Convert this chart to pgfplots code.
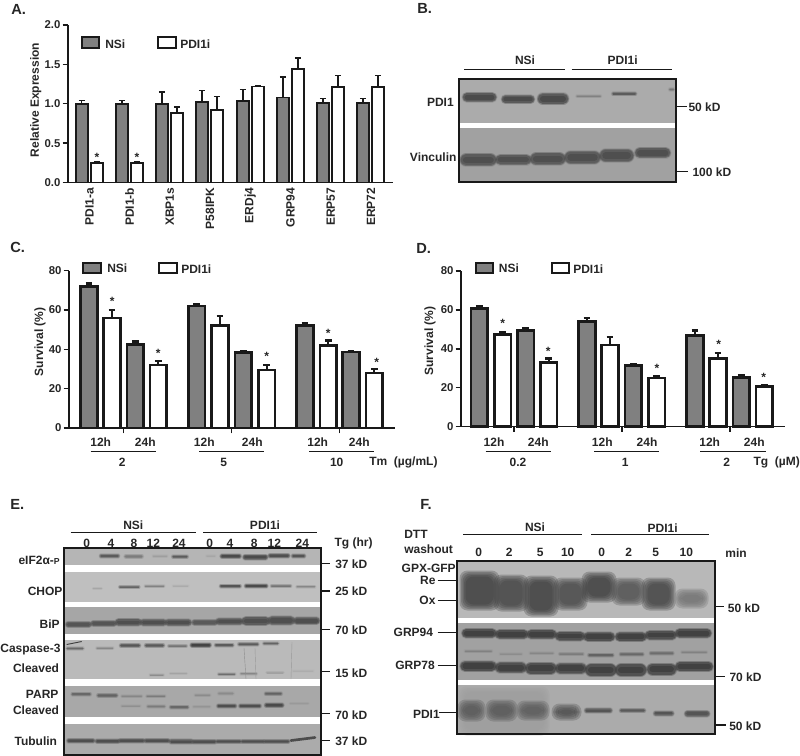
\documentclass[border=0pt]{standalone}
\usepackage{fontspec}
\setmainfont{Liberation Sans}
\usepackage{pgfplots}
\usepackage{pgfplotstable}
\pgfplotsset{compat=1.18}

% text sizes
\newcommand{\lf}{\fontsize{9}{10}\selectfont\bfseries}
\newcommand{\pf}{\fontsize{11}{12}\selectfont\bfseries}

% helpers for the pixel-coordinate axis that holds blots and labels
\newcommand{\band}[5]{%
  \pgfmathsetmacro\xa{#1+min(#4/2,(#2-#1)/2)}%
  \pgfmathsetmacro\xb{#2-min(#4/2,(#2-#1)/2)}%
  \addplot[draw=black!#5,opacity=.15,line width=(#4+3)*0.75pt,line cap=round] coordinates {(\xa,#3)(\xb,#3)};
  \addplot[draw=black!#5,opacity=.25,line width=(#4+2)*0.75pt,line cap=round] coordinates {(\xa,#3)(\xb,#3)};
  \addplot[draw=black!#5,opacity=.35,line width=(#4+1)*0.75pt,line cap=round] coordinates {(\xa,#3)(\xb,#3)};
  \addplot[draw=black!#5,opacity=.5,line width=#4*0.75pt,line cap=round] coordinates {(\xa,#3)(\xb,#3)};
  \addplot[draw=black!#5,opacity=.8,line width=#4*0.45pt,line cap=round] coordinates {(\xa,#3)(\xb,#3)};
}
% soft rounded patch for the overloaded bands: one rectangle per inset
\newcommand{\blobrect}[6]{%
  \pgfmathsetmacro\xa{#1+#6}\pgfmathsetmacro\xb{#2-#6}%
  \pgfmathsetmacro\ya{#3+#6}\pgfmathsetmacro\yb{#4-#6}%
  \addplot[fill=black!#5,draw=none,opacity=.28,rounded corners=6pt] coordinates {(\xa,\ya)(\xb,\ya)(\xb,\yb)(\xa,\yb)} --cycle;
}
\newcommand{\blob}[5]{%
  \blobrect{#1}{#2}{#3}{#4}{#5}{-1.5}%
  \blobrect{#1}{#2}{#3}{#4}{#5}{0}%
  \blobrect{#1}{#2}{#3}{#4}{#5}{1.5}%
  \blobrect{#1}{#2}{#3}{#4}{#5}{3}%
  \blobrect{#1}{#2}{#3}{#4}{#5}{4.5}%
}
\newcommand{\blot}[5]{\addplot[fill=#5,draw=none] coordinates {(#1,#2)(#3,#2)(#3,#4)(#1,#4)} --cycle;}
\newcommand{\frm}[4]{\addplot[draw=black!90,line width=1.5pt] coordinates {(#1,#2)(#3,#2)(#3,#4)(#1,#4)} --cycle;}
\newcommand{\seg}[5]{\addplot[draw=black!90,line width=#5*0.75pt] coordinates {(#1,#2)(#3,#4)};}
\newcommand{\lab}[4]{\node[anchor=#3,inner sep=0pt,font=\lf,text=black!85] at (axis cs:#1,#2) {#4};}
\newcommand{\legbox}[5]{\addplot[fill=#5,draw=black!90,line width=1.5pt] coordinates {(#1,#2)(#3,#2)(#3,#4)(#1,#4)} --cycle;}

% panel A
\pgfplotstableread{
x y e
81.7 1.00 0.04
122 1.00 0.04
162 1.00 0.15
202 1.02 0.15
243 1.03 0.15
283 1.08 0.26
323 1.01 0.06
363 1.01 0.06
}\tabAn
\pgfplotstableread{
x y e
97 0.25 0.01
137 0.25 0.01
177 0.88 0.08
217 0.92 0.17
258 1.22 0.01
298 1.44 0.14
338 1.21 0.15
378 1.21 0.15
}\tabAp
% panel C
\pgfplotstableread{
x y e
89 72 1.5
135.3 42.5 1.5
196.7 62 1
243.3 38.5 0.7
305 52 1.5
351 38.7 0.3
}\tabCn
\pgfplotstableread{
x y e
112 56 4
158.3 32 2
220 52 5
266.7 29.5 2.5
328.3 42 2.5
374.3 28 2
}\tabCp
% panel D
\pgfplotstableread{
x y e
479.3 60.8 1
525.7 49.5 1.2
587 54 1.8
633.3 31.5 0.8
695 47 2.5
741.3 25.3 1
}\tabDn
\pgfplotstableread{
x y e
502.7 47.5 1
548.7 33 2
610 42 4
656.7 25 0.8
718 35 3
764.3 20.5 0.7
}\tabDp

\pgfplotsset{
  barax/.style={
    scale only axis,
    axis lines=left,
    axis line style={-,line width=1.2pt,draw=black!90},
    tick style={line width=1.1pt,draw=black!90},
    tick align=outside,
    major tick length=4pt,
    tick pos=lower,
    ymin=0,
    clip=false,
    tick label style={font=\fontsize{8.5}{10}\selectfont\bfseries,text=black!85},
    /pgf/number format/assume math mode=true,
    ytick distance=#1,
    yticklabel style={inner sep=1.5pt},
  },
  nsi/.style={ybar,bar shift=0pt,bar width=#1,fill=black!50,draw=black!90},
  pdi/.style={ybar,bar shift=0pt,bar width=#1,fill=white,draw=black!90},
}

\begin{document}
\begin{tikzpicture}
\path[use as bounding box] (0,0) rectangle (600pt,567pt);

% everything that is not a bar chart: pixel coordinates, y downwards
\begin{axis}[
  at={(0pt,0pt)},anchor=south west,
  scale only axis,width=600pt,height=567pt,
  xmin=0,xmax=800,ymin=0,ymax=756,y dir=reverse,
  hide axis,clip=false,
]
% --- panel B
\blot{459.3}{79.3}{675.7}{123.3}{black!33}
\blot{459.3}{127.7}{675.7}{182.3}{black!37}
\band{463}{496}{97.3}{8}{72}
\band{502}{534}{99.3}{7}{72}
\band{538}{568}{98.7}{10}{72}
\band{576.7}{600.7}{96.3}{1}{50}
\band{612.3}{636}{94}{2}{65}
\band{669.3}{674}{89.3}{1.5}{55}
\band{460.7}{496}{160}{11}{70}
\band{496}{530.7}{159.7}{9}{70}
\band{530.7}{565}{159}{11}{70}
\band{565}{600}{157.3}{11.5}{70}
\band{600}{633.3}{155.7}{11.5}{70}
\band{635.3}{670}{153}{9}{70}
\frm{459.3}{79.3}{675.7}{182.3}
\seg{464.3}{69.3}{565}{69.3}{1.5}
\seg{571.7}{69.3}{672.3}{69.3}{1.5}
\seg{675.7}{106.7}{686.7}{106.7}{1.5}
\seg{675.7}{171.7}{687.7}{171.7}{1.5}

% --- panel E
\blot{64}{548.3}{321}{565}{black!29}
\blot{64}{571.5}{321}{601.7}{black!25}
\blot{64}{607.3}{321}{634.3}{black!35}
\blot{64}{640.3}{321}{679.3}{black!27}
\blot{64}{685.7}{321}{717}{black!34}
\blot{64}{724}{321}{755}{black!33}
% eIF2a-P
\band{100}{119}{556}{2.5}{65}
\band{124.7}{142.7}{556.3}{2.5}{52}
\band{153}{167}{556}{1}{38}
\band{172.3}{187.7}{556.7}{2}{65}
\band{206.7}{215}{556}{0.7}{35}
\band{220.7}{240.7}{556.3}{3}{72}
\band{243.3}{267.3}{557}{4}{72}
\band{268.7}{289.3}{555.7}{3}{70}
\band{292}{305}{556}{2.5}{68}
% CHOP
\band{93}{101.7}{588.3}{0.5}{35}
\band{119.3}{139.3}{587}{1.5}{62}
\band{145}{164}{586}{1}{50}
\band{173}{188}{586}{0.5}{33}
\band{220}{240.7}{586}{2}{68}
\band{245}{267.3}{586}{2.5}{72}
\band{271}{291}{586}{1.5}{55}
\band{296.7}{315}{586.7}{1}{48}
% BiP
\band{66}{91}{624.3}{4.5}{68}
\band{91.3}{116}{623.3}{4.5}{68}
\band{115.7}{141}{622.3}{6}{70}
\band{140.7}{166}{622.3}{5.5}{70}
\band{165.7}{191}{622.3}{5.5}{70}
\band{192.3}{217}{622.3}{4.5}{66}
\band{216.3}{242.7}{621.3}{5.5}{70}
\band{242.3}{269.3}{621}{7.5}{70}
\band{268.3}{294.3}{620.7}{7.5}{70}
\band{294}{319.3}{620.7}{6}{70}
% Caspase-3
\band{66.7}{83.3}{648.3}{1.4}{60}
\addplot[draw=black!75,line width=0.7pt] coordinates {(66.7,644.5)(81.7,641.5)};
\band{96.7}{113}{648}{1}{48}
\band{120}{140}{645.7}{2.5}{68}
\band{145}{164}{645.3}{2.5}{66}
\band{168.3}{186.7}{646}{1.5}{55}
\band{190.7}{210.7}{645}{3}{75}
\band{215}{233.3}{645}{2}{65}
\band{238.3}{258.3}{644.3}{2}{65}
\band{263.3}{278.3}{643.3}{1.5}{62}
\band{150}{163.3}{675}{0.7}{45}
\band{170}{186.7}{673.3}{0.4}{36}
\band{218.3}{235}{674}{1}{58}
\band{240.7}{256.7}{673.7}{0.8}{48}
\band{266.7}{283.3}{672.7}{0.5}{38}
\band{293}{313}{671}{0.3}{32}
\addplot[draw=black!45,line width=0.3pt] coordinates {(244,648)(246,679)};
\addplot[draw=black!40,line width=0.3pt] coordinates {(255,648)(256,679)};
\addplot[draw=black!40,line width=0.3pt] coordinates {(292,642)(291,679)};
% PARP
\band{71.7}{90.7}{694}{2}{60}
\band{97.3}{117.3}{695.3}{2.5}{62}
\band{121.7}{141.7}{696.3}{0.8}{48}
\band{146.7}{165}{696.3}{1}{52}
\band{195}{210}{695.3}{1}{46}
\band{218.3}{233.3}{693.7}{1.5}{46}
\band{265}{281.7}{693.7}{1.8}{62}
\band{121.7}{140}{706}{0.8}{44}
\band{147.3}{165}{706.3}{1.5}{52}
\band{170}{188.3}{707}{2}{60}
\band{193.3}{210}{706.7}{0.7}{42}
\band{217.3}{236}{706}{2.5}{70}
\band{239.3}{260.7}{706}{2.5}{70}
\band{265}{283.3}{705.3}{3}{72}
\band{290}{308.3}{703.3}{0.4}{40}
% Tubulin
\band{67.3}{94.3}{740.7}{3}{70}
\band{95.7}{119.3}{741}{3}{70}
\band{119}{144.3}{740.7}{3}{70}
\band{144.7}{169.3}{740.7}{3}{70}
\band{169.7}{192.7}{741.7}{3.5}{70}
\band{192.3}{216}{741.7}{3}{70}
\band{216.3}{241}{741.7}{2.5}{70}
\band{241.3}{264.3}{741.7}{2.5}{70}
\band{264}{289.3}{741.3}{2.5}{70}
\addplot[draw=black!70,line width=2pt,line cap=round] coordinates {(291,740.5)(315,737.5)};
\frm{64}{548.3}{321}{755}
\seg{70.7}{532.3}{195.7}{532.3}{1.5}
\seg{203}{532.3}{316.7}{532.3}{1.5}
\seg{321}{563.3}{330}{563.3}{1.5}
\seg{321}{591}{330}{591}{1.5}
\seg{321}{629.3}{330}{629.3}{1.5}
\seg{321}{671.7}{330}{671.7}{1.5}
\seg{321}{713.7}{330}{713.7}{1.5}
\seg{321}{740.7}{330}{740.7}{1.5}

% --- panel F
\blot{457.3}{560.7}{715}{618.3}{black!28}
\blot{457.3}{623.3}{715}{680}{black!37}
\blot{457.3}{685}{715}{734.3}{black!33}
\blob{460}{548}{688}{734}{38}
% GPX-GFP
\blob{461}{498}{572}{609}{78}
\blob{495}{527}{576}{610}{76}
\blob{525}{557}{577}{615}{78}
\blob{555}{586}{579}{609}{74}
\blob{583}{615}{573}{601}{78}
\blob{613}{644}{579}{604}{70}
\blob{643}{674}{579}{609}{76}
\blob{676}{707}{590}{607}{56}
% GRP94 and the faint band below it
\band{462.3}{496}{633.3}{8}{76}
\band{495.7}{527.7}{634.3}{8}{76}
\band{527.3}{556}{634.3}{8}{76}
\band{555.7}{584.3}{636}{8}{76}
\band{584}{614.3}{636.7}{8}{76}
\band{615.7}{646}{636.7}{8}{76}
\band{645.7}{676}{635}{8}{76}
\band{675.7}{711}{633.3}{8}{76}
\band{465}{491.7}{651}{1}{50}
\band{500}{521.7}{654}{0.8}{45}
\band{530}{553.3}{653.3}{1.2}{48}
\band{559.3}{583.3}{654}{1.4}{52}
\band{588.3}{613.3}{655}{2}{62}
\band{620}{643.3}{654.3}{1.8}{60}
\band{650}{673.3}{653.3}{1.8}{58}
\band{681.7}{706.7}{652.3}{1}{50}
% GRP78
\band{460.7}{496}{666}{9}{76}
\band{495.7}{526}{667.7}{9.5}{76}
\band{525.7}{556}{668.3}{10.5}{76}
\band{555.7}{586}{668.3}{9.5}{76}
\band{585.7}{616}{670}{11.5}{76}
\band{615.7}{646}{670}{11.5}{76}
\band{647.3}{676}{669.3}{10.5}{76}
\band{675.7}{712.7}{666.7}{8.5}{76}
% PDI1
\blob{459}{484}{701}{720}{68}
\blob{487}{516}{701}{720}{68}
\blob{518}{548}{702}{719}{66}
\blob{553}{580}{705}{719}{72}
\band{585}{611.7}{710.7}{3.5}{68}
\band{620}{645}{710.7}{2.5}{66}
\band{654}{673.3}{713.3}{3.5}{68}
\band{685}{709.3}{713.7}{5}{68}
\frm{457.3}{560.7}{715}{734.3}
\seg{463.3}{534.3}{581.7}{534.3}{1.5}
\seg{591}{534.3}{709.3}{534.3}{1.5}
\seg{437.7}{580.7}{457.3}{580.7}{1.5}
\seg{437.7}{600.7}{457.3}{600.7}{1.5}
\seg{437.7}{632.3}{457.3}{632.3}{1.5}
\seg{437.7}{665.7}{457.3}{665.7}{1.5}
\seg{439.3}{712.3}{457.3}{712.3}{1.5}
\seg{715}{606.7}{724.3}{606.7}{1.5}
\seg{715}{676.7}{725}{676.7}{1.5}
\seg{715}{725}{726}{725}{1.5}

% --- group lines under the bar charts
\seg{90.7}{451.7}{156}{451.7}{1.5}
\seg{199}{451.7}{264.3}{451.7}{1.5}
\seg{309}{451.7}{374}{451.7}{1.5}
\seg{485.7}{451.7}{551}{451.7}{1.5}
\seg{594.3}{451.7}{659.3}{451.7}{1.5}
\seg{700}{451.7}{765.7}{451.7}{1.5}

% --- legend boxes
\legbox{82}{37.5}{99.3}{48}{black!50}
\legbox{158}{37.5}{175.7}{48}{white}
\legbox{83}{262.7}{101}{272.7}{black!50}
\legbox{159}{262.7}{177}{272.7}{white}
\legbox{476}{262.7}{493}{272.7}{black!50}
\legbox{552}{262.7}{569}{272.7}{white}

% --- panel letters
\node[anchor=west,inner sep=0pt,font=\pf,text=black!85] at (axis cs:11,9) {A.};
\node[anchor=west,inner sep=0pt,font=\pf,text=black!85] at (axis cs:417,8) {B.};
\node[anchor=west,inner sep=0pt,font=\pf,text=black!85] at (axis cs:10,247) {C.};
\node[anchor=west,inner sep=0pt,font=\pf,text=black!85] at (axis cs:416,248) {D.};
\node[anchor=west,inner sep=0pt,font=\pf,text=black!85] at (axis cs:10,504) {E.};
\node[anchor=west,inner sep=0pt,font=\pf,text=black!85] at (axis cs:420,504) {F.};

% --- panel A text
\lab{105}{44.3}{west}{NSi}
\lab{180}{44.3}{west}{PDI1i}
\node[rotate=90,inner sep=0pt,font=\lf,text=black!85] at (axis cs:35.7,100) {Relative Expression};
\lab{97}{157}{center}{*}
\lab{137}{157}{center}{*}

% --- panel B text
\lab{525}{60.3}{center}{NSi}
\lab{622.7}{60.3}{center}{PDI1i}
\lab{454}{102.7}{east}{PDI1}
\lab{456.7}{157.7}{east}{Vinculin}
\lab{688.3}{107.3}{west}{50 kD}
\lab{692.3}{172}{west}{100 kD}

% --- panel C text
\lab{107}{268.7}{west}{NSi}
\lab{181}{268.7}{west}{PDI1i}
\node[rotate=90,inner sep=0pt,font=\lf,text=black!85] at (axis cs:40,341.7) {Survival (\%)};
\lab{112.3}{301}{center}{*}
\lab{158.3}{353.7}{center}{*}
\lab{266.7}{356.3}{center}{*}
\lab{328.3}{333.3}{center}{*}
\lab{376.7}{362}{center}{*}
\lab{100.7}{442.3}{center}{12h}
\lab{145.3}{442.3}{center}{24h}
\lab{204.3}{442.3}{center}{12h}
\lab{252.3}{442.3}{center}{24h}
\lab{317.7}{442.3}{center}{12h}
\lab{359.3}{442.3}{center}{24h}
\lab{122.3}{462.3}{center}{2}
\lab{223.7}{462.3}{center}{5}
\lab{336.7}{462.3}{center}{10}
\lab{369}{462.3}{west}{Tm\ \ (µg/mL)}

% --- panel D text
\lab{498.7}{268.7}{west}{NSi}
\lab{573}{268.7}{west}{PDI1i}
\node[rotate=90,inner sep=0pt,font=\lf,text=black!85] at (axis cs:430,341) {Survival (\%)};
\lab{502.7}{323.3}{center}{*}
\lab{548.3}{351.3}{center}{*}
\lab{657}{368.7}{center}{*}
\lab{718.7}{344.7}{center}{*}
\lab{763.7}{377.7}{center}{*}
\lab{494}{442.3}{center}{12h}
\lab{538.3}{442.3}{center}{24h}
\lab{602.3}{442.3}{center}{12h}
\lab{647}{442.3}{center}{24h}
\lab{709.7}{442.3}{center}{12h}
\lab{754.3}{442.3}{center}{24h}
\lab{518}{462.3}{center}{0.2}
\lab{625.3}{462.3}{center}{1}
\lab{726.7}{462.3}{center}{2}
\lab{753.3}{462.3}{west}{Tg\ \ (µM)}

% --- panel E text
\lab{133.3}{525}{center}{NSi}
\lab{265}{525}{center}{PDI1i}
\lab{86.7}{543.3}{center}{0}
\lab{111}{543.3}{center}{4}
\lab{134}{543.3}{center}{8}
\lab{153.3}{543.3}{center}{12}
\lab{179}{543.3}{center}{24}
\lab{209.7}{543.3}{center}{0}
\lab{230}{543.3}{center}{4}
\lab{254.3}{543.3}{center}{8}
\lab{274.3}{543.3}{center}{12}
\lab{302.3}{543.3}{center}{24}
\lab{334.3}{543.3}{west}{Tg (hr)}
\lab{60}{560.3}{east}{eIF2α-{\fontsize{6.5}{7}\selectfont P}}
\lab{62.7}{591.7}{east}{CHOP}
\lab{60}{623.7}{east}{BiP}
\lab{60.7}{649.3}{east}{Caspase-3}
\lab{59.3}{668}{east}{Cleaved}
\lab{58.7}{694.7}{east}{PARP}
\lab{59.3}{710.7}{east}{Cleaved}
\lab{57.3}{741}{east}{Tubulin}
\lab{335}{564}{west}{37 kD}
\lab{335}{591.7}{west}{25 kD}
\lab{335}{630}{west}{70 kD}
\lab{335}{673.3}{west}{15 kD}
\lab{335}{715.3}{west}{70 kD}
\lab{335}{741.7}{west}{37 kD}

% --- panel F text
\lab{535}{527.7}{center}{NSi}
\lab{662.7}{527.7}{center}{PDI1i}
\lab{478.7}{552.7}{center}{0}
\lab{509.3}{552.7}{center}{2}
\lab{540.3}{552.7}{center}{5}
\lab{567.7}{552.7}{center}{10}
\lab{601.7}{552.7}{center}{0}
\lab{628.7}{552.7}{center}{2}
\lab{655.7}{552.7}{center}{5}
\lab{686.3}{552.7}{center}{10}
\lab{736}{552.7}{center}{min}
\lab{404}{534.3}{west}{DTT}
\lab{404}{549}{west}{washout}
\lab{456}{568}{east}{GPX-GFP}
\lab{435.7}{580}{east}{Re}
\lab{435.7}{600.7}{east}{Ox}
\lab{433.3}{632.3}{east}{GRP94}
\lab{435}{665.7}{east}{GRP78}
\lab{440}{714}{east}{PDI1}
\lab{727.7}{608.7}{west}{50 kD}
\lab{729.3}{677.7}{west}{70 kD}
\lab{729}{726}{west}{50 kD}
\end{axis}

% --- A: relative expression
\begin{axis}[
  barax=0.5,
  at={(51pt,430.125pt)},anchor=south west,
  width=243.75pt,height=118.1pt,
  xmin=68,xmax=393,ymax=2,
  xtick={89.5,129.7,169.9,210.1,250.3,290.5,330.7,370.9},
  xticklabels={PDI1-a,PDI1-b,XBP1s,P58IPK,ERDj4,GRP94,ERP57,ERP72},
  xticklabel style={rotate=90,anchor=east,font=\fontsize{9}{10}\selectfont\bfseries},
  xticklabel shift=-3.5pt,
  x tick style={draw=none},
  /pgf/number format/fixed,/pgf/number format/fixed zerofill,/pgf/number format/precision=1,
  error bars/y dir=plus,error bars/y explicit,
  error bars/error bar style={line width=1.1pt,draw=black!90},
  error bars/error mark options={rotate=90,mark size=2.3pt,line width=1.1pt,draw=black!90},
]
\addplot[nsi=9pt,line width=1.4pt] table[x=x,y=y,y error=e] {\tabAn};
\addplot[pdi=9pt,line width=1.4pt] table[x=x,y=y,y error=e] {\tabAp};
\end{axis}

% --- C: tunicamycin survival
\begin{axis}[
  barax=20,
  at={(51.75pt,246pt)},anchor=south west,
  width=244.5pt,height=118pt,
  xmin=69,xmax=395,ymax=80,
  xtick={123.7,231.7,339.7},xticklabels={,,},
  error bars/y dir=plus,error bars/y explicit,
  error bars/error bar style={line width=1.6pt,draw=black!90},
  error bars/error mark options={rotate=90,mark size=2.6pt,line width=1.8pt,draw=black!90},
]
\addplot[nsi=12.6pt,line width=2pt] table[x=x,y=y,y error=e] {\tabCn};
\addplot[pdi=12.6pt,line width=2pt] table[x=x,y=y,y error=e] {\tabCp};
\end{axis}

% --- D: thapsigargin survival
\begin{axis}[
  barax=20,
  at={(345.75pt,247pt)},anchor=south west,
  width=243pt,height=116.75pt,
  xmin=461,xmax=785,ymax=80,
  xtick={514,622,730},xticklabels={,,},
  error bars/y dir=plus,error bars/y explicit,
  error bars/error bar style={line width=1.6pt,draw=black!90},
  error bars/error mark options={rotate=90,mark size=2.6pt,line width=1.8pt,draw=black!90},
]
\addplot[nsi=12.6pt,line width=2pt] table[x=x,y=y,y error=e] {\tabDn};
\addplot[pdi=12.6pt,line width=2pt] table[x=x,y=y,y error=e] {\tabDp};
\end{axis}
\end{tikzpicture}
\end{document}
